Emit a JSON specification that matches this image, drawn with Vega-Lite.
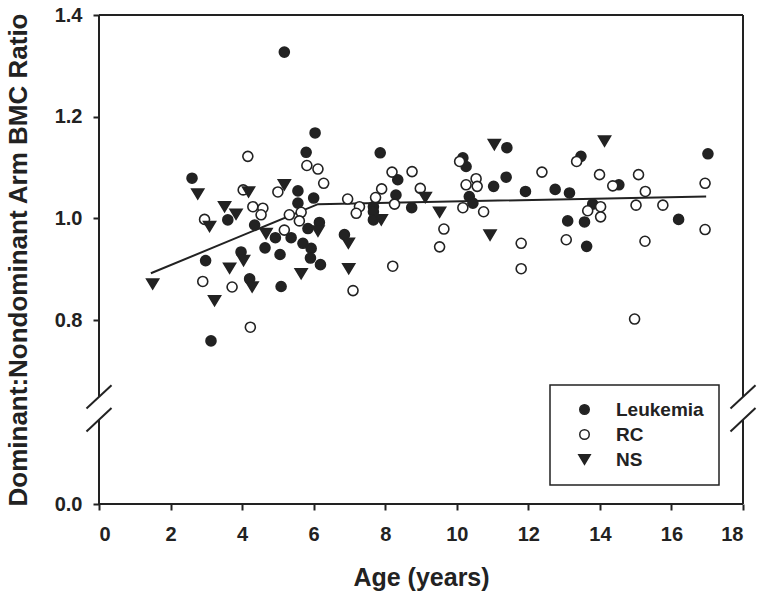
{
  "$schema": "https://vega.github.io/schema/vega-lite/v6.json",
  "width": 644,
  "height": 489,
  "autosize": {"type": "none"},
  "padding": {"left": 99, "top": 15, "right": 21, "bottom": 94},
  "background": "white",
  "config": {
    "view": {"stroke": null},
    "font": "Liberation Sans",
    "axis": {"labelFont": "Liberation Sans", "titleFont": "Liberation Sans", "labelFontWeight": "bold", "titleFontWeight": "bold", "labelColor": "#222", "titleColor": "#222", "tickColor": "#222", "tickWidth": 2, "tickSize": 6, "grid": false, "domain": false},
    "legend": {"orient": "none", "legendX": 451, "legendY": 370, "title": null, "strokeColor": "#222", "strokeWidth": 1.5, "padding": 15, "labelFont": "Liberation Sans", "labelFontWeight": "bold", "labelFontSize": 19, "labelColor": "#222", "symbolOffset": 10, "labelOffset": 22, "rowPadding": 5, "symbolSize": 90, "symbolStrokeWidth": 1.5}
  },
  "datasets": {
    "pts": [
      {"age": 2.60, "ratio": 1.079, "group": "Leukemia"},
      {"age": 3.60, "ratio": 0.997, "group": "Leukemia"},
      {"age": 4.35, "ratio": 0.987, "group": "Leukemia"},
      {"age": 3.97, "ratio": 0.934, "group": "Leukemia"},
      {"age": 2.98, "ratio": 0.917, "group": "Leukemia"},
      {"age": 4.21, "ratio": 0.881, "group": "Leukemia"},
      {"age": 3.13, "ratio": 0.759, "group": "Leukemia"},
      {"age": 5.18, "ratio": 1.327, "group": "Leukemia"},
      {"age": 6.04, "ratio": 1.168, "group": "Leukemia"},
      {"age": 5.79, "ratio": 1.130, "group": "Leukemia"},
      {"age": 7.86, "ratio": 1.129, "group": "Leukemia"},
      {"age": 8.35, "ratio": 1.076, "group": "Leukemia"},
      {"age": 8.30, "ratio": 1.046, "group": "Leukemia"},
      {"age": 8.74, "ratio": 1.021, "group": "Leukemia"},
      {"age": 7.67, "ratio": 1.023, "group": "Leukemia"},
      {"age": 7.67, "ratio": 1.013, "group": "Leukemia"},
      {"age": 7.67, "ratio": 0.997, "group": "Leukemia"},
      {"age": 6.86, "ratio": 0.968, "group": "Leukemia"},
      {"age": 6.00, "ratio": 1.040, "group": "Leukemia"},
      {"age": 5.56, "ratio": 1.054, "group": "Leukemia"},
      {"age": 5.56, "ratio": 1.030, "group": "Leukemia"},
      {"age": 6.16, "ratio": 0.992, "group": "Leukemia"},
      {"age": 5.84, "ratio": 0.980, "group": "Leukemia"},
      {"age": 4.93, "ratio": 0.962, "group": "Leukemia"},
      {"age": 5.37, "ratio": 0.962, "group": "Leukemia"},
      {"age": 4.64, "ratio": 0.942, "group": "Leukemia"},
      {"age": 5.06, "ratio": 0.929, "group": "Leukemia"},
      {"age": 5.70, "ratio": 0.951, "group": "Leukemia"},
      {"age": 5.93, "ratio": 0.941, "group": "Leukemia"},
      {"age": 5.91, "ratio": 0.922, "group": "Leukemia"},
      {"age": 6.19, "ratio": 0.909, "group": "Leukemia"},
      {"age": 5.09, "ratio": 0.866, "group": "Leukemia"},
      {"age": 11.40, "ratio": 1.139, "group": "Leukemia"},
      {"age": 10.17, "ratio": 1.119, "group": "Leukemia"},
      {"age": 10.26, "ratio": 1.102, "group": "Leukemia"},
      {"age": 11.03, "ratio": 1.063, "group": "Leukemia"},
      {"age": 11.38, "ratio": 1.081, "group": "Leukemia"},
      {"age": 11.92, "ratio": 1.053, "group": "Leukemia"},
      {"age": 12.75, "ratio": 1.057, "group": "Leukemia"},
      {"age": 13.15, "ratio": 1.050, "group": "Leukemia"},
      {"age": 13.47, "ratio": 1.122, "group": "Leukemia"},
      {"age": 10.35, "ratio": 1.043, "group": "Leukemia"},
      {"age": 10.45, "ratio": 1.030, "group": "Leukemia"},
      {"age": 13.10, "ratio": 0.995, "group": "Leukemia"},
      {"age": 17.02, "ratio": 1.127, "group": "Leukemia"},
      {"age": 14.53, "ratio": 1.066, "group": "Leukemia"},
      {"age": 13.80, "ratio": 1.028, "group": "Leukemia"},
      {"age": 13.57, "ratio": 0.993, "group": "Leukemia"},
      {"age": 16.20, "ratio": 0.998, "group": "Leukemia"},
      {"age": 13.63, "ratio": 0.945, "group": "Leukemia"},
      {"age": 4.16, "ratio": 1.122, "group": "RC"},
      {"age": 4.03, "ratio": 1.056, "group": "RC"},
      {"age": 4.30, "ratio": 1.023, "group": "RC"},
      {"age": 2.95, "ratio": 0.998, "group": "RC"},
      {"age": 2.90, "ratio": 0.876, "group": "RC"},
      {"age": 3.72, "ratio": 0.865, "group": "RC"},
      {"age": 4.23, "ratio": 0.786, "group": "RC"},
      {"age": 5.81, "ratio": 1.104, "group": "RC"},
      {"age": 6.12, "ratio": 1.097, "group": "RC"},
      {"age": 6.28, "ratio": 1.069, "group": "RC"},
      {"age": 8.19, "ratio": 1.091, "group": "RC"},
      {"age": 8.75, "ratio": 1.092, "group": "RC"},
      {"age": 7.90, "ratio": 1.058, "group": "RC"},
      {"age": 7.73, "ratio": 1.041, "group": "RC"},
      {"age": 8.26, "ratio": 1.028, "group": "RC"},
      {"age": 6.95, "ratio": 1.038, "group": "RC"},
      {"age": 7.28, "ratio": 1.023, "group": "RC"},
      {"age": 7.19, "ratio": 1.010, "group": "RC"},
      {"age": 7.10, "ratio": 0.858, "group": "RC"},
      {"age": 8.21, "ratio": 0.906, "group": "RC"},
      {"age": 5.00, "ratio": 1.052, "group": "RC"},
      {"age": 5.32, "ratio": 1.007, "group": "RC"},
      {"age": 5.65, "ratio": 1.012, "group": "RC"},
      {"age": 5.60, "ratio": 0.995, "group": "RC"},
      {"age": 4.58, "ratio": 1.020, "group": "RC"},
      {"age": 4.53, "ratio": 1.007, "group": "RC"},
      {"age": 5.18, "ratio": 0.977, "group": "RC"},
      {"age": 10.08, "ratio": 1.112, "group": "RC"},
      {"age": 10.54, "ratio": 1.078, "group": "RC"},
      {"age": 10.26, "ratio": 1.066, "group": "RC"},
      {"age": 10.57, "ratio": 1.063, "group": "RC"},
      {"age": 12.38, "ratio": 1.091, "group": "RC"},
      {"age": 13.35, "ratio": 1.112, "group": "RC"},
      {"age": 8.98, "ratio": 1.059, "group": "RC"},
      {"age": 10.17, "ratio": 1.021, "group": "RC"},
      {"age": 10.75, "ratio": 1.013, "group": "RC"},
      {"age": 9.64, "ratio": 0.979, "group": "RC"},
      {"age": 9.52, "ratio": 0.944, "group": "RC"},
      {"age": 11.80, "ratio": 0.951, "group": "RC"},
      {"age": 11.80, "ratio": 0.901, "group": "RC"},
      {"age": 13.06, "ratio": 0.958, "group": "RC"},
      {"age": 13.99, "ratio": 1.086, "group": "RC"},
      {"age": 15.08, "ratio": 1.086, "group": "RC"},
      {"age": 14.36, "ratio": 1.064, "group": "RC"},
      {"age": 16.94, "ratio": 1.069, "group": "RC"},
      {"age": 15.27, "ratio": 1.053, "group": "RC"},
      {"age": 14.02, "ratio": 1.023, "group": "RC"},
      {"age": 15.01, "ratio": 1.026, "group": "RC"},
      {"age": 15.76, "ratio": 1.026, "group": "RC"},
      {"age": 13.66, "ratio": 1.015, "group": "RC"},
      {"age": 14.02, "ratio": 1.003, "group": "RC"},
      {"age": 16.94, "ratio": 0.978, "group": "RC"},
      {"age": 15.26, "ratio": 0.955, "group": "RC"},
      {"age": 14.97, "ratio": 0.802, "group": "RC"},
      {"age": 2.76, "ratio": 1.048, "group": "NS"},
      {"age": 4.18, "ratio": 1.052, "group": "NS"},
      {"age": 3.51, "ratio": 1.023, "group": "NS"},
      {"age": 3.83, "ratio": 1.008, "group": "NS"},
      {"age": 3.09, "ratio": 0.984, "group": "NS"},
      {"age": 4.04, "ratio": 0.917, "group": "NS"},
      {"age": 3.65, "ratio": 0.902, "group": "NS"},
      {"age": 4.28, "ratio": 0.865, "group": "NS"},
      {"age": 1.50, "ratio": 0.871, "group": "NS"},
      {"age": 3.23, "ratio": 0.838, "group": "NS"},
      {"age": 7.89, "ratio": 0.997, "group": "NS"},
      {"age": 6.97, "ratio": 0.951, "group": "NS"},
      {"age": 6.98, "ratio": 0.901, "group": "NS"},
      {"age": 5.18, "ratio": 1.066, "group": "NS"},
      {"age": 6.12, "ratio": 0.975, "group": "NS"},
      {"age": 4.67, "ratio": 0.970, "group": "NS"},
      {"age": 5.65, "ratio": 0.891, "group": "NS"},
      {"age": 11.05, "ratio": 1.145, "group": "NS"},
      {"age": 9.12, "ratio": 1.041, "group": "NS"},
      {"age": 9.52, "ratio": 1.012, "group": "NS"},
      {"age": 10.93, "ratio": 0.967, "group": "NS"},
      {"age": 14.13, "ratio": 1.152, "group": "NS"}
    ],
    "fit": [
      {"age": 1.45, "ratio": 0.892},
      {"age": 6.12, "ratio": 1.028},
      {"age": 16.97, "ratio": 1.043}
    ],
    "frame": [
      {"x": 0, "x2": 0, "y": 0, "y2": 0.6035},
      {"x": 0, "x2": 0, "y": 0.649, "y2": 1.4},
      {"x": 18, "x2": 18, "y": 0, "y2": 0.6035},
      {"x": 18, "x2": 18, "y": 0.649, "y2": 1.4},
      {"x": 0, "x2": 18, "y": 1.4, "y2": 1.4},
      {"x": 0, "x2": 18, "y": 0, "y2": 0},
      {"x": -0.35, "x2": 0.35, "y": 0.626, "y2": 0.672},
      {"x": -0.35, "x2": 0.35, "y": 0.581, "y2": 0.627},
      {"x": 17.65, "x2": 18.35, "y": 0.626, "y2": 0.672},
      {"x": 17.65, "x2": 18.35, "y": 0.581, "y2": 0.627}
    ]
  },
  "layer": [
    {
      "data": {"name": "frame"},
      "mark": {"type": "rule", "color": "#222", "strokeWidth": 2},
      "encoding": {
        "x": {"field": "x", "type": "quantitative", "scale": {"domain": [0, 18], "nice": false, "zero": false},
          "axis": {"values": [0, 2, 4, 6, 8, 10, 12, 14, 16, 18], "format": "d", "title": "Age (years)", "labelFontSize": 20, "labelPadding": 14, "titleFontSize": 25, "titleBaseline": "alphabetic", "titleY": 81}},
        "x2": {"field": "x2"},
        "y": {"field": "y", "type": "quantitative", "scale": {"domain": [0, 0.56, 1.4], "range": [489, 427.1, 0], "nice": false, "zero": false},
          "axis": {"values": [0, 0.8, 1.0, 1.2, 1.4], "format": ".1f", "title": "Dominant:Nondominant Arm BMC Ratio", "labelFontSize": 20, "labelPadding": 11, "titleFontSize": 26, "titleBaseline": "alphabetic", "titleX": -73}},
        "y2": {"field": "y2"}
      }
    },
    {
      "data": {"name": "fit"},
      "mark": {"type": "line", "color": "#222", "strokeWidth": 2},
      "encoding": {
        "x": {"field": "age", "type": "quantitative"},
        "y": {"field": "ratio", "type": "quantitative"}
      }
    },
    {
      "data": {"name": "pts"},
      "mark": {"type": "point", "filled": true, "size": 100, "strokeWidth": 1.6, "opacity": 1},
      "encoding": {
        "x": {"field": "age", "type": "quantitative"},
        "y": {"field": "ratio", "type": "quantitative"},
        "shape": {"field": "group", "type": "nominal", "scale": {"domain": ["Leukemia", "RC", "NS"], "range": ["circle", "circle", "M-1.2,-1L1.2,-1L0,1Z"]}},
        "fill": {"field": "group", "type": "nominal", "scale": {"domain": ["Leukemia", "RC", "NS"], "range": ["#222", "white", "#222"]}},
        "stroke": {"field": "group", "type": "nominal", "scale": {"domain": ["Leukemia", "RC", "NS"], "range": ["#222", "#222", "#222"]}}
      }
    }
  ]
}
